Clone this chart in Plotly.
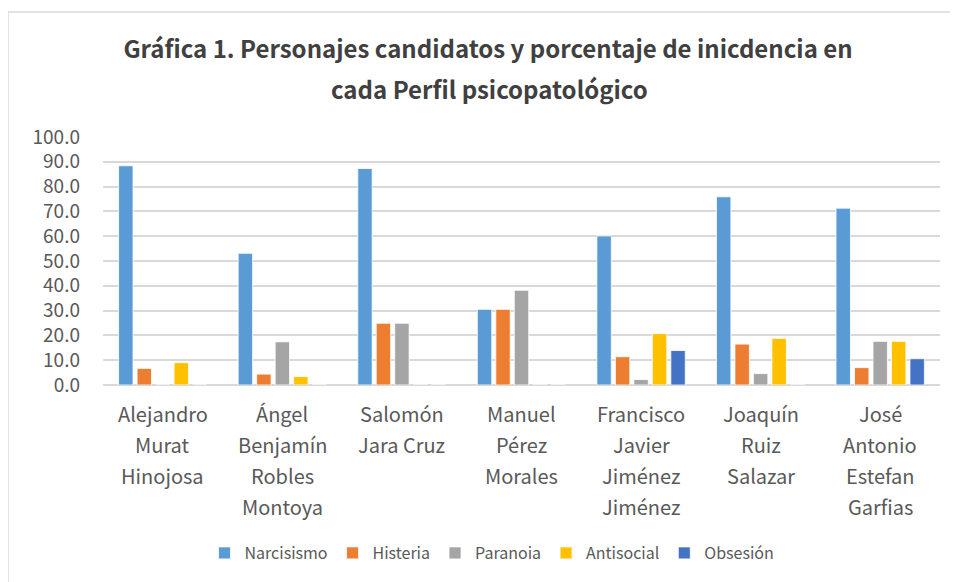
import plotly.graph_objects as go

categories = [
    "Alejandro<br>Murat<br>Hinojosa",
    "Ángel<br>Benjamín<br>Robles<br>Montoya",
    "Salomón<br>Jara Cruz",
    "Manuel<br>Pérez<br>Morales",
    "Francisco<br>Javier<br>Jiménez<br>Jiménez",
    "Joaquín<br>Ruiz<br>Salazar",
    "José<br>Antonio<br>Estefan<br>Garfias",
]

narcisismo = [88.4, 53.1, 87.3, 30.5, 60.1, 75.9, 71.3]
histeria = [6.7, 4.4, 24.9, 30.5, 11.4, 16.5, 7.0]
paranoia = [0.0, 17.4, 24.9, 38.2, 2.2, 4.6, 17.6]
antisocial = [9.0, 3.4, 0.0, 0.0, 20.7, 18.8, 17.6]
obsesion = [0.0, 0.0, 0.0, 0.0, 13.9, 0.0, 10.6]

series = [
    ("Narcisismo", narcisismo, "#5B9BD5"),
    ("Histeria", histeria, "#ED7D31"),
    ("Paranoia", paranoia, "#A5A5A5"),
    ("Antisocial", antisocial, "#FFC000"),
    ("Obsesión", obsesion, "#4472C4"),
]

FONT = "Noto Sans CJK JP"
TXT = "#595959"

fig = go.Figure()
for name, vals, col in series:
    fig.add_trace(go.Bar(
        name=name, x=categories, y=vals,
        marker=dict(color=col, line=dict(color="white", width=0.8)),
    ))

# page offset from default body margin
OFF = 8
W, H = 958 - OFF, 582 - OFF
# plot area in page pixels
PL, PR, PT, PB = 103, 940, 137, 385
L, T = PL - OFF, PT - OFF
R, B = W - (PR - OFF), H - (PB - OFF)
pw, ph = PR - PL, PB - PT

def px_x(p):
    return (p - PL) / pw

def px_y(p):
    return (PB - p) / ph

annotations = []
for cat in categories:
    for i, line in enumerate(cat.split("<br>")):
        annotations.append(dict(
            x=cat, xref="x", y=0, yref="y", text=line, showarrow=False,
            yanchor="middle", yshift=-(28 + 31 * i),
            font=dict(family=FONT, size=20, color=TXT),
        ))

annotations.append(dict(
    x=px_x(489), xref="paper", y=px_y(88), yref="paper",
    text="cada Perfil psicopatológico", showarrow=False,
    xanchor="center", yanchor="middle",
    font=dict(family=FONT, size=24, color="#404040", weight="bold"),
))

fig.update_layout(
    width=W, height=H,
    margin=dict(l=L, r=R, t=T, b=B),
    paper_bgcolor="white", plot_bgcolor="white",
    barmode="group", bargap=0.227, bargroupgap=0.22,
    title=dict(
        text="Gráfica 1. Personajes candidatos y porcentaje de inicdencia en",
        x=(488 - OFF) / W, xanchor="center",
        y=1 - (50 - OFF) / H, yanchor="middle", yref="container",
        font=dict(family=FONT, size=24, color="#404040", weight="bold"),
    ),
    font=dict(family=FONT, color=TXT),
    xaxis=dict(showticklabels=False, showgrid=False, zeroline=False,
               showline=False, ticks=""),
    yaxis=dict(range=[0, 100], dtick=10, tickformat=".1f",
               showgrid=True, gridcolor="#D9D9D9", gridwidth=1.5,
               zeroline=True, zerolinecolor="#D9D9D9", zerolinewidth=1.5,
               showline=False, ticks="", ticklabelstandoff=22,
               tickfont=dict(family=FONT, size=19, color=TXT)),
    legend=dict(orientation="h", x=px_x(492), xanchor="center",
                y=px_y(553), yanchor="middle",
                font=dict(family=FONT, size=16, color=TXT),
                itemwidth=30, traceorder="normal"),
    annotations=annotations,
    shapes=[dict(type="rect", xref="paper", yref="paper",
                 x0=px_x(8), x1=px_x(975), y0=px_y(600), y1=px_y(12),
                 line=dict(color="#D9D9D9", width=1.5), layer="below")],
)

fig.write_html("out.html")
